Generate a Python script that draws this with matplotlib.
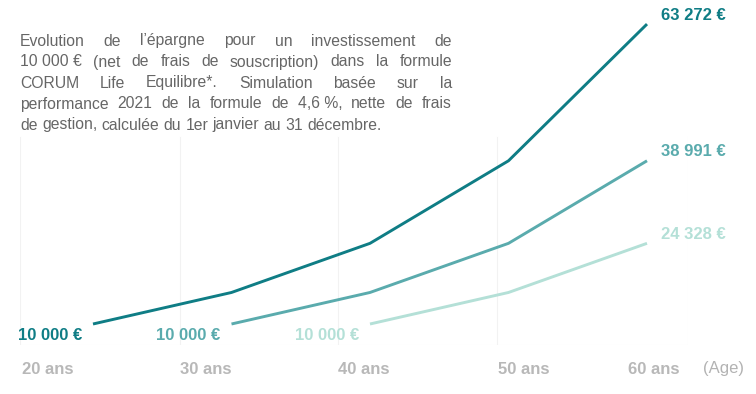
import matplotlib
matplotlib.use("Agg")
import matplotlib.pyplot as plt

# data
ages = [20, 30, 40, 50, 60]
age_labels = ["20 ans", "30 ans", "40 ans", "50 ans", "60 ans"]
start_ages = [20, 30, 40]
savings = [10000, 15600, 24328, 38991, 63272]
start_labels = ["10 000 €", "10 000 €", "10 000 €"]
end_labels = ["63 272 €", "38 991 €", "24 328 €"]
colors = ["#0f7d85", "#5aabad", "#b4e0d7"]

intro = [
    "Evolution de l’épargne pour un investissement de",
    "10\u00a0000\u00a0€ (net de frais de souscription) dans la formule",
    "CORUM Life Equilibre*. Simulation basée sur la",
    "performance 2021 de la formule de 4,6\u00a0%, nette de frais",
    "de gestion, calculée du 1er janvier au 31 décembre.",
]

W, H = 756, 394
plt.rcParams["font.family"] = ["Liberation Sans", "DejaVu Sans"]
fig = plt.figure(figsize=(W / 100, H / 100), dpi=100)


def fx(px):
    return px / W


def fy(py):
    return 1 - py / H


# axes placed so the series land where they sit in the picture
ax = fig.add_axes([fx(20), fy(345), fx(688) - fx(20), fy(10) - fy(345)])
ax.set_xlim(20 - 73 / 13.85, 20 + 595 / 13.85)
ax.set_ylim(10000 - 21 / 0.00563, 10000 + 314 / 0.00563)
ax.axis("off")

# faint grid
for gx in [0.0, 0.2395, 0.476, 0.714, 1.0]:
    ax.plot([gx, gx], [0, 0.62], transform=ax.transAxes, color="#f2f2f2", lw=0.8, zorder=0)
ax.plot([0, 1], [0, 0], transform=ax.transAxes, color="#f2f2f2", lw=0.8, zorder=0)

for i, a0 in enumerate(start_ages):
    xs = [a for a in ages if a >= a0]
    ys = savings[: len(xs)]
    ax.plot(xs, ys, color=colors[i], lw=2.1, solid_capstyle="butt", zorder=3)
    ax.annotate(start_labels[i], (xs[0], ys[0]), xytext=(-11, -11), textcoords="offset pixels",
                ha="right", va="center", fontsize=12, fontweight="bold", color=colors[i],
                annotation_clip=False)
    ax.annotate(end_labels[i], (xs[-1], ys[-1]), xytext=(14, 9), textcoords="offset pixels",
                ha="left", va="center", fontsize=12, fontweight="bold", color=colors[i],
                annotation_clip=False)

# x labels
label_px = [22, 180, 338, 498, 628]
for lab, px in zip(age_labels, label_px):
    fig.text(fx(px), fy(369), lab, ha="left", va="center", fontsize=12, fontweight="bold",
             color="#b8b8b8")
fig.text(fx(703), fy(369), "(Age)", ha="left", va="center", fontsize=12, color="#b3b3b3")

# justified intro paragraph
renderer = fig.canvas.get_renderer()
left, right = 20, 452
line_y = [41, 62, 83, 104, 125]
fs = 11.3
for k, line in enumerate(intro):
    words = line.split(" ")
    texts = [fig.text(0, 0, w, fontsize=fs, color="#666666", va="center", ha="left") for w in words]
    widths = [t.get_window_extent(renderer).width for t in texts]
    if k < len(intro) - 1:
        gap = (right - left - sum(widths)) / (len(words) - 1)
    else:
        gap = 0.28 * fs * 100 / 72
    x = left
    for t, w in zip(texts, widths):
        t.set_position((fx(x), fy(line_y[k])))
        x += w + gap

fig.savefig("out.png", dpi=100)
